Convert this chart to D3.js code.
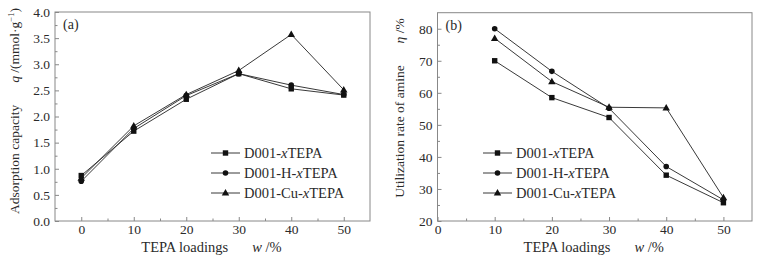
<!DOCTYPE html>
<html>
<head>
<meta charset="utf-8">
<script src="https://cdn.jsdelivr.net/npm/d3@7"></script>
<style>
  body { margin: 0; background: #fff; }
  text { font-family: "Liberation Serif", "DejaVu Serif", serif; fill: #2a2a2a; }
</style>
</head>
<body>
<div id="graph"></div>
<script>
// data
var seriesNames = ["D001-xTEPA", "D001-H-xTEPA", "D001-Cu-xTEPA"];

// (a) adsorption capacity, mmol/g
var loadingsA = [0, 10, 20, 30, 40, 50];
var capD001 = [0.87, 1.72, 2.33, 2.82, 2.53, 2.41];
var capD001H = [0.76, 1.77, 2.40, 2.82, 2.60, 2.42];
var capD001Cu = [0.82, 1.82, 2.42, 2.88, 3.57, 2.51];
var xTicksA = [0, 10, 20, 30, 40, 50];
var yTicksA = [0, 0.5, 1, 1.5, 2, 2.5, 3, 3.5, 4];

// (b) utilization rate of amine, %
var loadingsB = [10, 20, 30, 40, 50];
var etaD001 = [70, 58.5, 52.3, 34.3, 25.7];
var etaD001H = [80, 66.7, 55.2, 37.0, 26.6];
var etaD001Cu = [77, 63.5, 55.5, 55.3, 27.3];
var xTicksB = [0, 10, 20, 30, 40, 50];
var yTicksB = [20, 30, 40, 50, 60, 70, 80];

var w = 762;
var h = 264;

var svg = d3.select("#graph")
    .append("svg")
    .attr("width", w)
    .attr("height", h);

var markers = ["square", "circle", "triangle"];

function drawMarker(g, type, x, y) {
  if (type == "square") {
    g.append("rect")
      .attr("x", x - 2.7).attr("y", y - 2.7)
      .attr("width", 5.4).attr("height", 5.4)
      .attr("fill", "#111");
  } else if (type == "circle") {
    g.append("circle")
      .attr("cx", x).attr("cy", y).attr("r", 2.8)
      .attr("fill", "#111");
  } else {
    g.append("path")
      .attr("d", d3.symbol().type(d3.symbolTriangle).size(24)())
      .attr("transform", "translate(" + x + "," + (y + 0.4) + ")")
      .attr("fill", "#111");
  }
}

function drawPanel(p) {
  var xScale = d3.scaleLinear().domain(p.xDomain).range([p.left, p.right]);
  var yScale = d3.scaleLinear().domain(p.yDomain).range([p.bottom, p.top]);

  var g = svg.append("g");

  // frame
  g.append("rect")
    .attr("x", p.left).attr("y", p.top)
    .attr("width", p.right - p.left).attr("height", p.bottom - p.top)
    .attr("fill", "none")
    .attr("stroke", "#888")
    .attr("stroke-width", 1);

  // left axis, ticks pointing inward
  var yAxis = d3.axisLeft(yScale)
      .tickValues(p.yTicks)
      .tickSize(-4)
      .tickPadding(5)
      .tickFormat(p.yFormat);
  var yg = g.append("g")
      .attr("transform", "translate(" + p.left + ",0)")
      .call(yAxis);

  // minor y ticks
  var yMinor = d3.axisLeft(yScale)
      .tickValues(p.yMinor)
      .tickSize(-2.5)
      .tickFormat("");
  var ym = g.append("g")
      .attr("transform", "translate(" + p.left + ",0)")
      .call(yMinor);

  var xAxis = d3.axisBottom(xScale)
      .tickValues(p.xTicks)
      .tickSize(-4)
      .tickPadding(3)
      .tickFormat(d3.format("d"));
  var xg = g.append("g")
      .attr("transform", "translate(0," + p.bottom + ")")
      .call(xAxis);

  var xMinor = d3.axisBottom(xScale)
      .tickValues(p.xMinor)
      .tickSize(-2.5)
      .tickFormat("");
  var xm = g.append("g")
      .attr("transform", "translate(0," + p.bottom + ")")
      .call(xMinor);

  [yg, ym, xg, xm].forEach(function(a) {
    a.select(".domain").remove();
    a.selectAll("line").attr("stroke", "#888");
    a.selectAll("text")
      .attr("font-family", "Liberation Serif")
      .attr("font-size", 13.5)
      .attr("fill", "#2a2a2a");
  });

  // lines + markers
  var line = d3.line()
      .x(function(d) { return xScale(d.x); })
      .y(function(d) { return yScale(d.y); });

  p.series.forEach(function(vals, i) {
    var pts = p.xs.map(function(x, j) { return { x: x, y: vals[j] }; });
    g.append("path")
      .datum(pts)
      .attr("d", line)
      .attr("fill", "none")
      .attr("stroke", "#222")
      .attr("stroke-width", 0.9);
    pts.forEach(function(d) {
      drawMarker(g, markers[i], xScale(d.x), yScale(d.y));
    });
  });

  // legend
  seriesNames.forEach(function(name, i) {
    var ly = p.legendY + i * 20;
    g.append("line")
      .attr("x1", p.legendX).attr("x2", p.legendX + 29)
      .attr("y1", ly).attr("y2", ly)
      .attr("stroke", "#222")
      .attr("stroke-width", 0.9);
    drawMarker(g, markers[i], p.legendX + 14.5, ly);
    var parts = name.split("x");
    var t = g.append("text")
      .attr("x", p.legendX + 33)
      .attr("y", ly + 5)
      .attr("font-size", 14.5);
    t.append("tspan").text(parts[0]);
    t.append("tspan").attr("font-style", "italic").text("x");
    t.append("tspan").text(parts[1]);
  });

  // panel tag
  g.append("text")
    .attr("x", p.left + 8)
    .attr("y", p.top + 17)
    .attr("font-size", 14)
    .text(p.tag);

  // x title
  var xt = g.append("text")
    .attr("x", (p.left + p.right) / 2 - 1)
    .attr("y", 252)
    .attr("text-anchor", "middle")
    .attr("font-size", 14.5);
  xt.append("tspan").text("TEPA loadings");
  xt.append("tspan").attr("dx", 24).attr("font-style", "italic").text("w");
  xt.append("tspan").text(" /%");

  // y title
  var yt = g.append("text")
    .attr("transform", "translate(" + p.yTitleX + "," + p.yTitleY + ") rotate(-90)")
    .attr("text-anchor", "middle")
    .attr("font-size", 13.5);
  p.yTitle(yt);
}

drawPanel({
  left: 55, right: 370, top: 12, bottom: 221,
  xDomain: [-5, 55], yDomain: [0, 4],
  xTicks: xTicksA, xMinor: [5, 15, 25, 35, 45],
  yTicks: yTicksA, yMinor: [0.25, 0.75, 1.25, 1.75, 2.25, 2.75, 3.25, 3.75],
  yFormat: d3.format(".1f"),
  xs: loadingsA,
  series: [capD001, capD001H, capD001Cu],
  legendX: 211, legendY: 153,
  tag: "(a)",
  yTitleX: 19, yTitleY: 111,
  yTitle: function(t) {
    t.append("tspan").text("Adsorption capacity");
    t.append("tspan").attr("dx", 22).attr("font-style", "italic").text("q");
    t.append("tspan").text(" /(mmol·g");
    t.append("tspan").attr("font-size", 8.5).attr("dy", -5).text("−1");
    t.append("tspan").attr("dy", 5).text(")");
  }
});

drawPanel({
  left: 437.5, right: 752, top: 12.7, bottom: 221,
  xDomain: [0, 55], yDomain: [20, 85],
  xTicks: xTicksB, xMinor: [5, 15, 25, 35, 45],
  yTicks: yTicksB, yMinor: [25, 35, 45, 55, 65, 75],
  yFormat: d3.format("d"),
  xs: loadingsB,
  series: [etaD001, etaD001H, etaD001Cu],
  legendX: 483, legendY: 153,
  tag: "(b)",
  yTitleX: 404, yTitleY: 108,
  yTitle: function(t) {
    t.append("tspan").text("Utilization rate of amine");
    t.append("tspan").attr("dx", 22).attr("font-style", "italic").text("η");
    t.append("tspan").text(" /%");
  }
});
</script>
</body>
</html>
